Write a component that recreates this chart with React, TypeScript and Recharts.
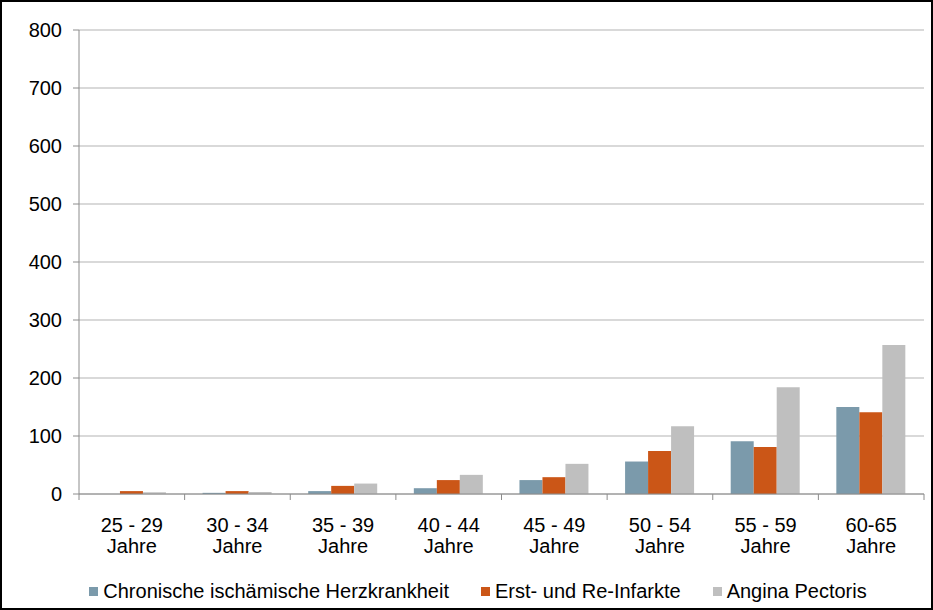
import React from "react";
import { BarChart, Bar, XAxis, YAxis, CartesianGrid, Legend } from "recharts";

const AGE_GROUPS = ["25 - 29", "30 - 34", "35 - 39", "40 - 44", "45 - 49", "50 - 54", "55 - 59", "60-65"];
const CHRONISCH = [0, 2, 5, 10, 24, 56, 91, 150];
const INFARKTE = [5, 5, 14, 24, 29, 74, 81, 141];
const ANGINA = [3, 3.5, 18, 33, 52, 117, 184, 257];
const Y_TICKS = [0, 100, 200, 300, 400, 500, 600, 700, 800];

const SERIES = [
  { key: "chronisch", name: "Chronische ischämische Herzkrankheit", color: "#7B9AAB" },
  { key: "infarkte", name: "Erst- und Re-Infarkte", color: "#CB5617" },
  { key: "angina", name: "Angina Pectoris", color: "#BFBFBF" },
];

const data = AGE_GROUPS.map((age, i) => ({
  age,
  chronisch: CHRONISCH[i],
  infarkte: INFARKTE[i],
  angina: ANGINA[i],
}));

const FONT = "'Liberation Sans', Arial, sans-serif";
const CHART_W = 929;
const CHART_H = 606;
const MARGIN = { top: 28, right: 7, bottom: 0, left: 0 };
const Y_W = 77;
const BAND = (CHART_W - MARGIN.right - MARGIN.left - Y_W) / AGE_GROUPS.length;

function AgeTick(props: any) {
  const { x, y, payload, index } = props;
  const half = BAND / 2;
  return (
    <g>
      {index === 0 && <line x1={x - half} x2={x - half} y1={y} y2={y + 6} stroke="#8c8c8c" />}
      <line x1={x + half} x2={x + half} y1={y} y2={y + 6} stroke="#8c8c8c" />
      <text x={x} y={y + 38} textAnchor="middle" fontSize={20} fill="#000" fontFamily={FONT}>
        {payload.value}
      </text>
      <text x={x} y={y + 59} textAnchor="middle" fontSize={20} fill="#000" fontFamily={FONT}>
        Jahre
      </text>
    </g>
  );
}

function LegendContent() {
  return (
    <div style={{ display: "flex", justifyContent: "center", gap: 32, height: 44, paddingTop: 11, paddingLeft: 30, boxSizing: "border-box", fontFamily: FONT, fontSize: 20, lineHeight: "23px", color: "#000" }}>
      {SERIES.map((s) => (
        <div key={s.key} style={{ display: "flex", alignItems: "center" }}>
          <span style={{ width: 9, height: 9, background: s.color, marginRight: 5, display: "inline-block" }} />
          <span>{s.name}</span>
        </div>
      ))}
    </div>
  );
}

export default function App() {
  return (
    <div style={{ position: "absolute", left: 0, top: 0, width: 933, height: 610, border: "2px solid #000", boxSizing: "border-box", background: "#fff" }}>
      <BarChart width={CHART_W} height={CHART_H} data={data} margin={MARGIN} barGap={0} barCategoryGap="17%">
        <CartesianGrid vertical={false} stroke="#b3b3b3" />
        <XAxis
          dataKey="age"
          height={70}
          interval={0}
          tickLine={false}
          tickSize={0}
          tickMargin={0}
          stroke="#8c8c8c"
          tick={<AgeTick />}
        />
        <YAxis
          width={Y_W}
          domain={[0, 800]}
          ticks={Y_TICKS}
          stroke="#8c8c8c"
          tickSize={6}
          tickMargin={11}
          tick={{ fontSize: 20, fill: "#000", fontFamily: FONT }}
        />
        <Legend verticalAlign="bottom" content={<LegendContent />} />
        {SERIES.map((s) => (
          <Bar key={s.key} dataKey={s.key} name={s.name} fill={s.color} isAnimationActive={false} />
        ))}
      </BarChart>
    </div>
  );
}
